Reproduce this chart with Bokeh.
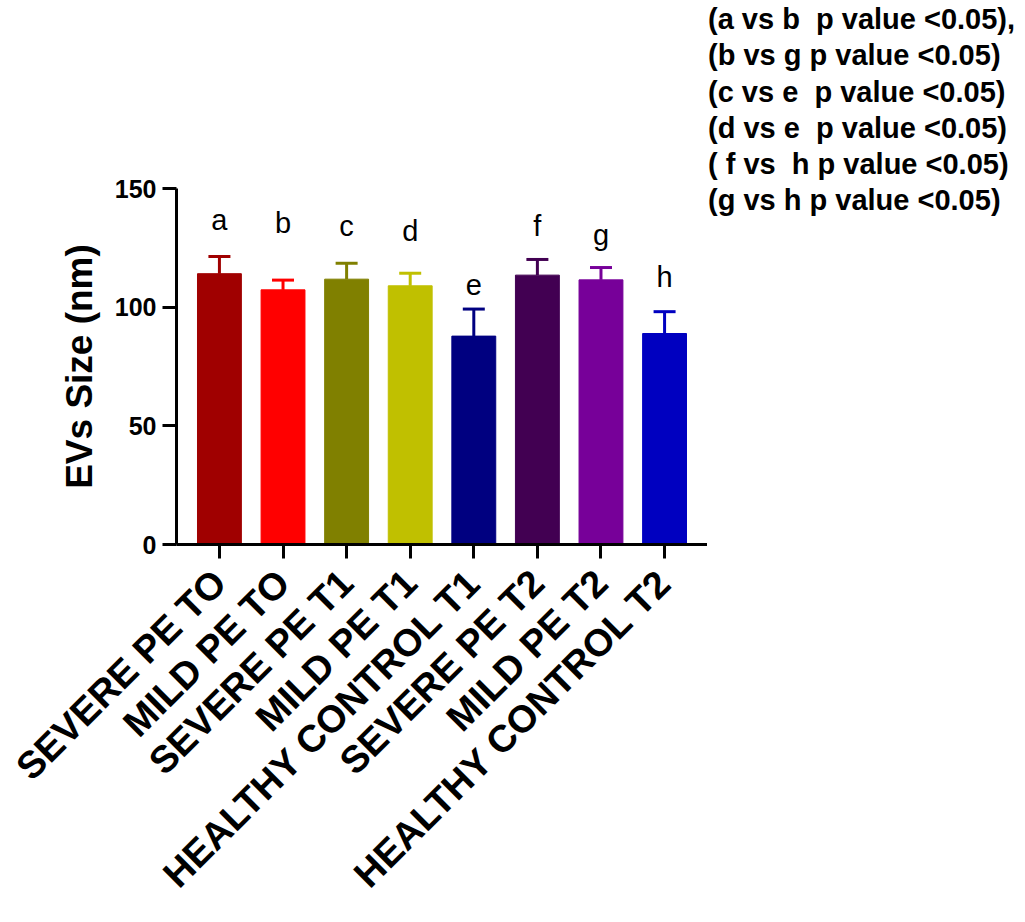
from bokeh.plotting import figure
from bokeh.layouts import row
from bokeh.models import ColumnDataSource, FactorRange, FixedTicker, Div
from bokeh.core.properties import value
from bokeh.embed import file_html
from bokeh.resources import INLINE
import html
import math

categories = ["SEVERE PE TO", "MILD PE TO", "SEVERE PE T1", "MILD PE T1",
              "HEALTHY CONTROL T1", "SEVERE PE T2", "MILD PE T2", "HEALTHY CONTROL T2"]
means = [114.1, 107.3, 111.8, 109.0, 87.8, 113.5, 111.5, 88.9]
upper = [121.4, 111.4, 118.5, 114.3, 99.2, 120.1, 116.7, 98.1]
colors = ["#A00000", "#FF0000", "#808000", "#C0C000", "#000080", "#420052", "#770099", "#0000C0"]
letters = ["a", "b", "c", "d", "e", "f", "g", "h"]
letter_y = [136.8, 135.4, 134.0, 132.3, 109.4, 134.0, 130.5, 112.9]
y_ticks = [0, 50, 100, 150]
notes = ["(a vs b  p value <0.05),", "(b vs g p value <0.05)", "(c vs e  p value <0.05)",
         "(d vs e  p value <0.05)", "( f vs  h p value <0.05)", "(g vs h p value <0.05)"]

FONT = "Liberation Sans"
H = 922

src = ColumnDataSource(dict(cat=categories, mean=means, upper=upper, color=colors,
                            letter=letters, ly=letter_y))

x_range = FactorRange(*categories, range_padding=0.175, range_padding_units="absolute")
p = figure(x_range=x_range, y_range=(0, 150), width=707, height=H,
           min_border_left=176, min_border_top=188, min_border_right=0,
           min_border_bottom=H - 188 - 356,
           output_backend="svg", toolbar_location=None, tools="")

p.vbar(x="cat", top="mean", width=0.69, fill_color="color", line_color="color", source=src)
p.segment(x0="cat", y0="mean", x1="cat", y1="upper", line_color="color", line_width=3, source=src)
p.scatter(x="cat", y="upper", marker="dash", size=22, line_color="color", line_width=3, source=src)
p.text(x="cat", y="ly", text="letter", text_align="center", text_baseline="alphabetic",
       text_font=value(FONT), text_font_size="29px", text_color="black", source=src)

p.xgrid.visible = False
p.ygrid.visible = False
p.outline_line_color = None

for ax in (p.xaxis[0], p.yaxis[0]):
    ax.axis_line_width = 3
    ax.axis_line_color = "black"
    ax.major_tick_line_width = 3
    ax.major_tick_line_color = "black"
    ax.major_tick_in = 0
    ax.major_tick_out = 14
    ax.minor_tick_line_color = None
    ax.major_label_text_font = FONT
    ax.major_label_text_font_style = "bold"
    ax.major_label_text_color = "black"

p.yaxis.ticker = FixedTicker(ticks=y_ticks)
p.yaxis.major_label_text_font_size = "25px"
p.yaxis.major_label_standoff = 6
p.yaxis.axis_label = "EVs Size (nm)"
p.yaxis.axis_label_text_font = FONT
p.yaxis.axis_label_text_font_style = "bold"
p.yaxis.axis_label_text_font_size = "37px"
p.yaxis.axis_label_text_color = "black"
p.yaxis.axis_label_standoff = 12

p.xaxis.major_label_orientation = math.pi / 4
p.xaxis.major_label_text_font_size = "38px"
p.xaxis.major_label_standoff = 18

notes_div = Div(
    text="<br>".join(html.escape(t).replace("  ", "&nbsp; ") for t in notes),
    width=308, height=230,
    styles={"font-family": FONT, "font-weight": "bold", "font-size": "29px",
            "line-height": "36.3px", "color": "black", "white-space": "nowrap",
            "transform": "translate(-4px, -4px)"},
)

layout = row(p, notes_div)
open("out.html", "w").write(file_html(layout, INLINE))
